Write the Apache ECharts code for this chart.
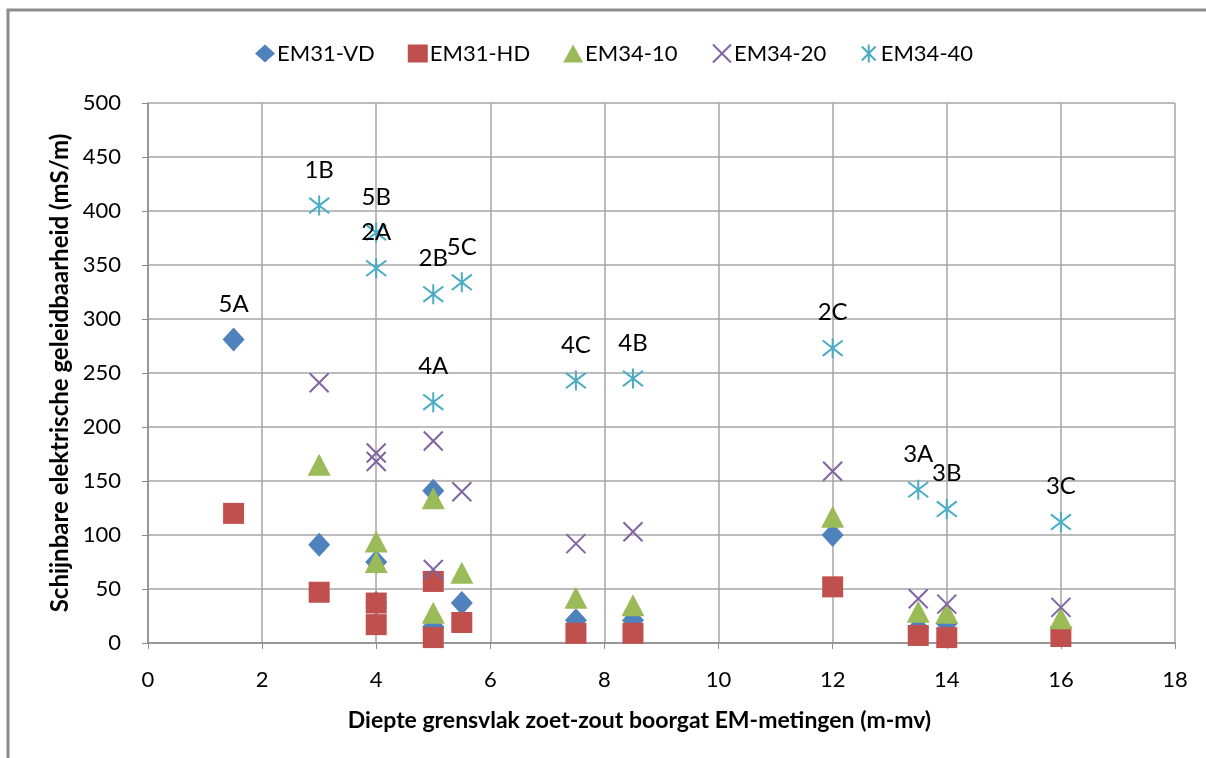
<!DOCTYPE html>
<html>
<head>
    <meta charset="utf-8">
    <title>EM-metingen</title>
    <script src="https://cdn.jsdelivr.net/npm/echarts@6/dist/echarts.min.js"></script>
    <style>
        html, body { margin: 0; padding: 0; background: #fff; }
    </style>
</head>
<body>
    <div id="main" style="width: 1206px;height:758px;"></div>
    <script type="text/javascript">
// diepte grensvlak per boorgat (m-mv) en de code van het boorgat
var depth = [1.5, 3, 4, 4, 5, 5, 5.5, 7.5, 8.5, 12, 13.5, 14, 16];
var codes = ['5A', '1B', '5B', '2A', '2B', '4A', '5C', '4C', '4B', '2C', '3A', '3B', '3C'];

// schijnbare geleidbaarheid (mS/m)
var em31VD = [281, 91, 75, 37, 141, 15, 37, 21, 21, 100, 14, 18, 14];
var em31HD = [120, 47, 37, 17, 57, 5, 19, 9, 9, 52, 7, 5, 6];
var em3410 = [null, 165, 94, 75, 134, 28, 65, 42, 35, 117, 29, 28, 23];
var em3420 = [null, 241, 176, 168, 187, 68, 140, 92, 103, 159, 41, 36, 33];
var em3440 = [null, 405, 380, 347, 323, 223, 334, 243, 245, 273, 142, 124, 112];

var FONT = 'Lato';

// boorgatcode boven het bovenste punt van elk boorgat
function pairs(values, withLabels, labelIfMissing) {
    var out = [];
    for (var i = 0; i < depth.length; i++) {
        if (values[i] == null) continue;
        var p = { value: [depth[i], values[i]] };
        var show = withLabels || (labelIfMissing && labelIfMissing[i] == null);
        if (show) {
            p.label = { show: true, formatter: codes[i] };
        }
        out.push(p);
    }
    return out;
}

var starPath = 'path://M0,0L10,10M10,0L0,10M5,-1.5L5,11.5';
var crossPath = 'path://M0,0L10,10M10,0L0,10';

var pointLabel = {
    position: 'top',
    distance: 11,
    color: '#000',
    fontFamily: FONT,
    fontSize: 24
};

var myChart = echarts.init(document.getElementById('main'));

var option = {
    backgroundColor: '#fff',
    animation: false,
    graphic: [{
        type: 'rect',
        shape: { x: 8, y: 10, width: 1400, height: 900 },
        style: { fill: 'none', stroke: '#8c8c8c', lineWidth: 3 },
        silent: true
    }],
    legend: {
        top: 37,
        left: 250,
        itemWidth: 20,
        itemHeight: 18,
        itemGap: 33,
        textStyle: { fontFamily: FONT, fontSize: 22, color: '#000', padding: [0, 0, 0, -3] },
        data: ['EM31-VD', 'EM31-HD', 'EM34-10', 'EM34-20', 'EM34-40']
    },
    grid: {
        left: 148,
        right: 31,
        top: 103,
        bottom: 115
    },
    xAxis: {
        type: 'value',
        min: 0,
        max: 18,
        interval: 2,
        name: 'Diepte grensvlak zoet-zout boorgat EM-metingen (m-mv)',
        nameLocation: 'middle',
        nameGap: 66,
        nameTextStyle: { fontFamily: FONT, fontSize: 23, fontWeight: 'bold', color: '#000', padding: [0, 44, 0, 0] },
        axisLine: { lineStyle: { color: '#8c8c8c', width: 1.5 } },
        axisTick: { show: true, length: 6, lineStyle: { color: '#8c8c8c' } },
        axisLabel: { fontFamily: FONT, fontSize: 22, color: '#000', margin: 26 },
        splitLine: { show: true, lineStyle: { color: '#a6a6a6', width: 1.5 } }
    },
    yAxis: {
        type: 'value',
        min: 0,
        max: 500,
        interval: 50,
        name: 'Schijnbare elektrische geleidbaarheid (mS/m)',
        nameLocation: 'middle',
        nameGap: 74,
        nameTextStyle: { fontFamily: FONT, fontSize: 24, fontWeight: 'bold', color: '#000' },
        axisLine: { show: true, lineStyle: { color: '#8c8c8c', width: 1.5 } },
        axisTick: { show: true, length: 6, lineStyle: { color: '#8c8c8c' } },
        axisLabel: { fontFamily: FONT, fontSize: 22, color: '#000', margin: 27 },
        splitLine: { show: true, lineStyle: { color: '#a6a6a6', width: 1.5 } }
    },
    series: [{
        name: 'EM31-VD',
        type: 'scatter',
        symbol: 'diamond',
        symbolSize: [22, 24],
        itemStyle: { color: '#4f81bd', opacity: 1 },
        label: pointLabel,
        data: pairs(em31VD, false, em3440)
    }, {
        name: 'EM31-HD',
        type: 'scatter',
        symbol: 'rect',
        symbolSize: 21,
        itemStyle: { color: '#c0504d', opacity: 1 },
        data: pairs(em31HD, false)
    }, {
        name: 'EM34-10',
        type: 'scatter',
        symbol: 'triangle',
        symbolSize: [23, 22],
        itemStyle: { color: '#9bbb59', opacity: 1 },
        data: pairs(em3410, false)
    }, {
        name: 'EM34-20',
        type: 'scatter',
        symbol: crossPath,
        symbolSize: 19,
        itemStyle: { color: 'none', borderColor: '#8064a2', borderWidth: 2, opacity: 1 },
        data: pairs(em3420, false)
    }, {
        name: 'EM34-40',
        type: 'scatter',
        symbol: starPath,
        symbolSize: 20,
        itemStyle: { color: 'none', borderColor: '#4bacc6', borderWidth: 2, opacity: 1 },
        label: pointLabel,
        data: pairs(em3440, true)
    }]
};

myChart.setOption(option);
    </script>
</body>
</html>
